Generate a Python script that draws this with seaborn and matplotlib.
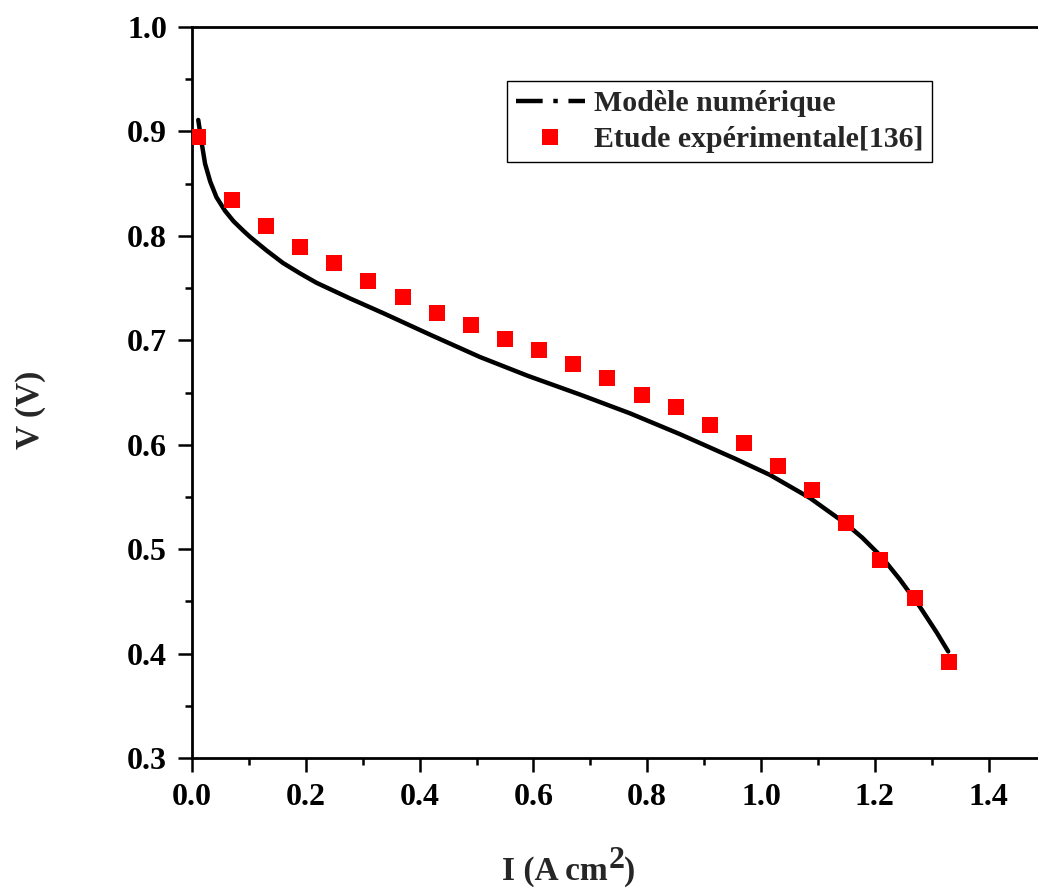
import numpy as np
import pandas as pd
import matplotlib
matplotlib.use("Agg")
import matplotlib.pyplot as plt
from matplotlib.lines import Line2D
import seaborn as sns

# ---- data ----
model_I = [0.011, 0.017, 0.023, 0.032, 0.043, 0.058, 0.073, 0.090, 0.102, 0.131,
           0.160, 0.190, 0.219, 0.278, 0.336, 0.42, 0.506, 0.59, 0.682, 0.77,
           0.858, 0.957, 1.016, 1.086, 1.15, 1.178, 1.213, 1.244, 1.279, 1.309,
           1.329]
model_V = [0.911, 0.889, 0.869, 0.852, 0.837, 0.824, 0.814, 0.805, 0.799, 0.786,
           0.774, 0.764, 0.755, 0.740, 0.726, 0.705, 0.684, 0.666, 0.648, 0.630,
           0.610, 0.586, 0.571, 0.549, 0.524, 0.511, 0.492, 0.471, 0.445, 0.420,
           0.402]

exp_I = [0.01, 0.07, 0.13, 0.19, 0.25, 0.31, 0.37, 0.43, 0.49, 0.55, 0.61, 0.67,
         0.73, 0.79, 0.85, 0.91, 0.97, 1.03, 1.09, 1.15, 1.21, 1.27, 1.33]
exp_V = [0.895, 0.834, 0.809, 0.789, 0.774, 0.757, 0.741, 0.726, 0.715, 0.701,
         0.691, 0.677, 0.664, 0.648, 0.636, 0.619, 0.602, 0.580, 0.557, 0.525,
         0.490, 0.453, 0.392]

x_ticks = [0.0, 0.2, 0.4, 0.6, 0.8, 1.0, 1.2, 1.4]
y_ticks = [0.3, 0.4, 0.5, 0.6, 0.7, 0.8, 0.9, 1.0]
label_model = "Modèle numérique"
label_exp = "Etude expérimentale[136]"
xlabel_main = "I (A cm"
xlabel_sup = "2"
xlabel_end = ")"
ylabel = "V (V)"

# ---- style ----
sns.set_style("ticks")
plt.rcParams["font.family"] = ["Liberation Serif", "DejaVu Serif"]
plt.rcParams["font.weight"] = "bold"

fig = plt.figure(figsize=(10.38, 8.89), dpi=100)
ax = fig.add_axes([192 / 1038, 131 / 889, 853.5 / 1038, 731 / 889])

df_model = pd.DataFrame({"I": model_I, "V": model_V})
df_exp = pd.DataFrame({"I": exp_I, "V": exp_V})

sns.lineplot(data=df_model, x="I", y="V", ax=ax, color="black", lw=3.2,
             sort=False, estimator=None, zorder=2)
sns.scatterplot(data=df_exp, x="I", y="V", ax=ax, color="#ff0000", marker="s",
                s=125, linewidth=0, zorder=3)

ax.set_xlim(0.0, 1.5)
ax.set_ylim(0.3, 1.0)
ax.set_xticks(x_ticks)
ax.set_yticks(y_ticks)
ax.set_xticks(np.arange(0.1, 1.5, 0.2), minor=True)
ax.set_yticks(np.arange(0.35, 1.0, 0.1), minor=True)
ax.set_xticklabels([f"{v:.1f}" for v in x_ticks], fontsize=23, fontweight="bold")
ax.set_yticklabels([f"{v:.1f}" for v in y_ticks], fontsize=23, fontweight="bold")

ax.tick_params(axis="both", which="major", direction="out", length=10, width=1.8,
               pad=8, colors="black")
ax.tick_params(axis="both", which="minor", direction="out", length=5, width=1.8,
               colors="black")
ax.tick_params(top=False, right=False, which="both")
for sp in ax.spines.values():
    sp.set_visible(True)
    sp.set_linewidth(2.0)
    sp.set_color("black")

ax.set_xlabel("")
ax.set_ylabel(ylabel, fontsize=24, fontweight="bold")
ax.yaxis.set_label_coords(-0.171, 0.476)

# x label with a large raised superscript
t1 = ax.text(0.363, -0.167, xlabel_main, transform=ax.transAxes, ha="left",
             va="baseline", fontsize=24, fontweight="bold")
t2 = ax.annotate(xlabel_sup, xy=(1, 0), xycoords=t1, xytext=(0.5, 9),
                 textcoords="offset points", ha="left", va="bottom",
                 fontsize=23, fontweight="bold", annotation_clip=False)
t3 = ax.annotate(xlabel_end, xy=(1, 0), xycoords=t2, xytext=(0, -9),
                 textcoords="offset points", ha="left", va="bottom",
                 fontsize=24, fontweight="bold", annotation_clip=False)

handles = [
    Line2D([], [], color="black", lw=3.2, linestyle=(0, (6, 2.4, 1, 2.4))),
    Line2D([], [], color="#ff0000", marker="s", markersize=11, linestyle="none",
           markeredgewidth=0),
]
leg = ax.legend(handles, [label_model, label_exp], loc="upper right",
                bbox_to_anchor=(0.867, 0.926), frameon=True, fancybox=False,
                prop={"family": "Liberation Serif", "weight": "bold", "size": 21.5},
                handlelength=2.3, handletextpad=0.3, borderpad=0.3,
                labelspacing=0.3, borderaxespad=0.0)
leg.get_frame().set_edgecolor("black")
leg.get_frame().set_linewidth(1.0)
leg.get_frame().set_facecolor("white")
leg.get_frame().set_alpha(1.0)

fig.savefig("out.png", dpi=100)
